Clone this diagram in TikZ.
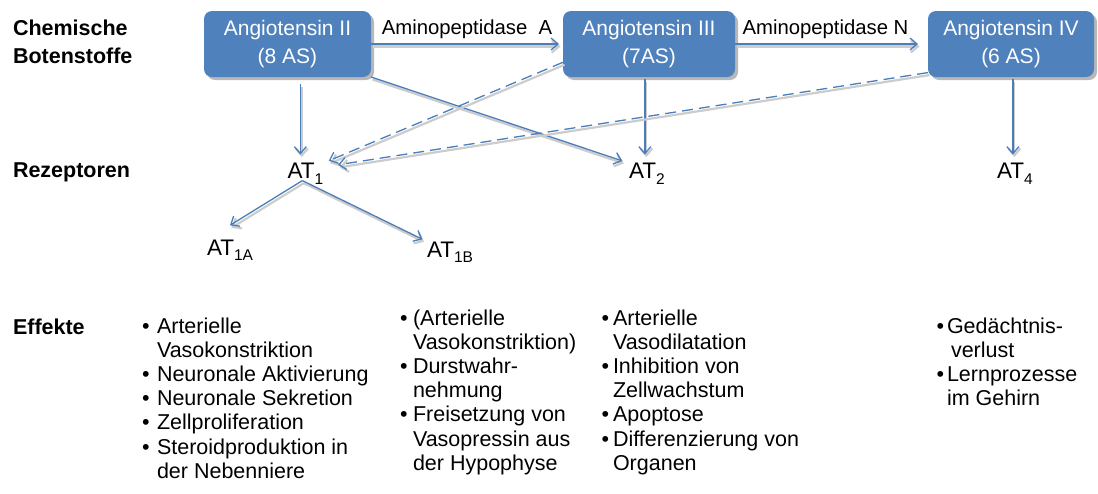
\documentclass[tikz,border=0pt]{standalone}
\usepackage{fontspec}
\setmainfont{Liberation Sans}
\usetikzlibrary{arrows.meta,calc}
\definecolor{boxblue}{RGB}{79,129,189}
\definecolor{lineblue}{RGB}{74,126,187}
\newcommand\atsub[1]{\raisebox{-5.5pt}{\fontsize{15.5}{15.5}\selectfont #1}}
\begin{document}
\begin{tikzpicture}[x=1pt,y=-1pt,
  every node/.style={inner sep=0pt, outer sep=0pt},
  hdr/.style={font=\fontsize{21.5}{24}\selectfont\bfseries, anchor=base west},
  eff/.style={font=\fontsize{21.5}{24}\selectfont, anchor=base west},
  lbl/.style={font=\fontsize{20.3}{24}\selectfont, anchor=base},
  atlbl/.style={font=\fontsize{22.5}{24}\selectfont, anchor=base west},
  agbox/.style={fill=boxblue, rounded corners=8pt, text=white, align=center,
    font=\fontsize{21}{28}\selectfont, minimum height=66pt,
    preaction={fill=black!28, transform canvas={shift={(3,3)}}}},
  conn/.style={draw=lineblue, line width=1.3pt, -{Straight Barb[length=7pt,width=12pt]},
    preaction={draw=black!20, line width=2.2pt, transform canvas={shift={(1.5,2.5)}}}},
  dashline/.style={dash pattern=on 11pt off 6pt}
]
\useasboundingbox (0,0) rectangle (1098,493);

% headings
\node[hdr] (h1) at (13,35) {Chemische};
\node[hdr] (h2) at (13,63) {Botenstoffe};
\node[hdr] (h3) at (13,177) {Rezeptoren};
\node[hdr] (h4) at (13,334) {Effekte};

% boxes
\node[agbox, minimum width=167pt] (a2) at (287.5,44) {Angiotensin II\\(8 AS)};
\node[agbox, minimum width=172pt] (a3) at (649,44) {Angiotensin III\\(7AS)};
\node[agbox, minimum width=166pt] (a4) at (1011,44) {Angiotensin IV\\(6 AS)};

% receptors
\node[atlbl] (at1) at (287.5,178.6) {AT\atsub{1}};
\node[atlbl] (at2) at (629,178.6) {AT\atsub{2}};
\node[atlbl] (at4) at (997,178.6) {AT\atsub{4}};
\node[atlbl] (at1a) at (207,255) {AT\atsub{1A}};
\node[atlbl] (at1b) at (427,257) {AT\atsub{1B}};

% connectors
\draw[conn, shorten >=4pt] (a2) -- node[lbl, anchor=base, yshift=10pt] (lA) {Aminopeptidase\ \ A} (a3);
\draw[conn, shorten >=10pt] (a3) -- node[lbl, anchor=base, yshift=10pt, xshift=-6pt] (lN) {Aminopeptidase N} (a4);

\draw[conn, shorten <=7pt, shorten >=8.5pt] ([xshift=-5pt]at1.north |- a2.south) -- ([xshift=-5pt]at1.north);
\draw[conn, shorten <=2pt, shorten >=8.5pt] ([xshift=-2pt]at2.north |- a3.south) -- ([xshift=-2pt]at2.north);
\draw[conn, shorten <=2pt, shorten >=8.5pt] ([xshift=-2pt]at4.north |- a4.south) -- ([xshift=-2pt]at4.north);

\draw[conn, shorten >=7pt] (a2.south east) -- (at2.north west);
\draw[conn, dashline, shorten >=6pt] (a3.192) -- (at1.north east);
\draw[conn, dashline, shorten >=15pt] (a4.199) -- (at1.20);

\coordinate (br) at ($(at1.base)+(-3,2)$);
\draw[conn, shorten >=27pt] (br) -- (at1a.north west);
\draw[conn, shorten >=5pt] (br) -- (at1b.north west);

% effects column 1
\foreach \t [count=\k from 0] in {Arterielle, Vasokonstriktion, Neuronale Aktivierung, Neuronale Sekretion, Zellproliferation, Steroidproduktion in, der Nebenniere}
  \node[eff] (ea\k) at (157,{333+24.2*\k}) {\t};
\foreach \k in {0,2,3,4,5}
  \node[eff] (ba\k) at (142,{333+24.2*\k}) {•};

% effects column 2
\foreach \t [count=\k from 0] in {{(Arterielle}, {Vasokonstriktion)}, Durstwahr-, nehmung, Freisetzung von, Vasopressin aus, der Hypophyse}
  \node[eff] (eb\k) at (413,{325+24.2*\k}) {\t};
\foreach \k in {0,2,4}
  \node[eff] (bb\k) at (400,{325+24.2*\k}) {•};

% effects column 3
\foreach \t [count=\k from 0] in {Arterielle, Vasodilatation, Inhibition von, Zellwachstum, Apoptose, Differenzierung von, Organen}
  \node[eff] (ec\k) at (613,{325+24.2*\k}) {\t};
\foreach \k in {0,2,4,5}
  \node[eff] (bc\k) at (601.5,{325+24.2*\k}) {•};

% effects column 4
\node[eff] (ed0) at (947,333) {Gedächtnis-};
\node[eff] (ed1) at (951,357.2) {verlust};
\node[eff] (ed2) at (947,381.4) {Lernprozesse};
\node[eff] (ed3) at (947,405.6) {im Gehirn};
\foreach \k in {0,2}
  \node[eff] (bd\k) at (936.5,{333+24.2*\k}) {•};
\end{tikzpicture}
\end{document}
